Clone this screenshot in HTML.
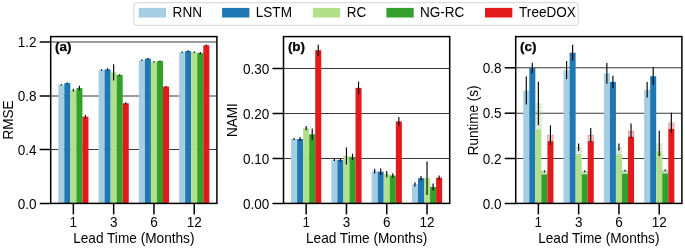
<!DOCTYPE html>
<html><head><meta charset="utf-8"><style>
html,body{margin:0;padding:0;background:#fff;width:685px;height:248px;overflow:hidden}
svg text{font-family:"Liberation Sans", sans-serif;font-size:13.9px;fill:#000}
svg{will-change:transform}
</style></head><body>
<svg width="685" height="248" viewBox="0 0 685 248" style="display:block">
<defs>
<pattern id="h0" patternUnits="userSpaceOnUse" width="2.6" height="2.6" patternTransform="rotate(45)"><rect x="0" y="0" width="2.6" height="2.6" fill="#a6cee3" fill-opacity="0.22"/><rect x="0" y="0" width="0.8" height="2.6" fill="#777" fill-opacity="0.35"/></pattern>
<pattern id="h1" patternUnits="userSpaceOnUse" width="2.6" height="2.6" patternTransform="rotate(45)"><rect x="0" y="0" width="2.6" height="2.6" fill="#1f78b4" fill-opacity="0.22"/><rect x="0" y="0" width="0.8" height="2.6" fill="#777" fill-opacity="0.35"/></pattern>
<pattern id="h2" patternUnits="userSpaceOnUse" width="2.6" height="2.6" patternTransform="rotate(45)"><rect x="0" y="0" width="2.6" height="2.6" fill="#b2df8a" fill-opacity="0.22"/><rect x="0" y="0" width="0.8" height="2.6" fill="#777" fill-opacity="0.35"/></pattern>
<pattern id="h3" patternUnits="userSpaceOnUse" width="2.6" height="2.6" patternTransform="rotate(45)"><rect x="0" y="0" width="2.6" height="2.6" fill="#33a02c" fill-opacity="0.22"/><rect x="0" y="0" width="0.8" height="2.6" fill="#777" fill-opacity="0.35"/></pattern>
<pattern id="h4" patternUnits="userSpaceOnUse" width="2.6" height="2.6" patternTransform="rotate(45)"><rect x="0" y="0" width="2.6" height="2.6" fill="#e31a1c" fill-opacity="0.22"/><rect x="0" y="0" width="0.8" height="2.6" fill="#777" fill-opacity="0.35"/></pattern>
</defs>
<rect x="0" y="0" width="685" height="248" fill="#fff"/>
<g class="t">
<line x1="50.70" y1="149.50" x2="216.90" y2="149.50" stroke="#3a3a3a" stroke-width="1.05"/>
<line x1="50.70" y1="96.00" x2="216.90" y2="96.00" stroke="#3a3a3a" stroke-width="1.05"/>
<line x1="50.70" y1="42.00" x2="216.90" y2="42.00" stroke="#3a3a3a" stroke-width="1.05"/>
<rect x="58.25" y="84.70" width="6.04" height="118.70" fill="#a6cee3"/>
<line x1="61.28" y1="84.00" x2="61.28" y2="85.40" stroke="#000" stroke-width="1.15"/>
<rect x="64.30" y="83.10" width="6.04" height="120.30" fill="#1f78b4"/>
<line x1="67.32" y1="82.40" x2="67.32" y2="83.80" stroke="#000" stroke-width="1.15"/>
<rect x="70.34" y="90.10" width="6.04" height="113.30" fill="#b2df8a"/>
<line x1="73.36" y1="88.70" x2="73.36" y2="91.50" stroke="#000" stroke-width="1.15"/>
<rect x="76.38" y="88.05" width="6.04" height="115.35" fill="#33a02c"/>
<line x1="79.41" y1="85.75" x2="79.41" y2="90.35" stroke="#000" stroke-width="1.15"/>
<rect x="82.43" y="116.70" width="6.04" height="86.70" fill="#e31a1c"/>
<line x1="85.45" y1="114.90" x2="85.45" y2="118.50" stroke="#000" stroke-width="1.15"/>
<rect x="98.54" y="70.00" width="6.04" height="133.40" fill="#a6cee3"/>
<line x1="101.57" y1="69.25" x2="101.57" y2="70.75" stroke="#000" stroke-width="1.15"/>
<rect x="104.59" y="69.40" width="6.04" height="134.00" fill="#1f78b4"/>
<line x1="107.61" y1="68.20" x2="107.61" y2="70.60" stroke="#000" stroke-width="1.15"/>
<rect x="110.63" y="72.40" width="6.04" height="131.00" fill="#b2df8a"/>
<line x1="113.65" y1="64.30" x2="113.65" y2="80.50" stroke="#000" stroke-width="1.15"/>
<rect x="116.67" y="75.00" width="6.04" height="128.40" fill="#33a02c"/>
<line x1="119.70" y1="74.30" x2="119.70" y2="75.70" stroke="#000" stroke-width="1.15"/>
<rect x="122.72" y="103.30" width="6.04" height="100.10" fill="#e31a1c"/>
<line x1="125.74" y1="102.20" x2="125.74" y2="104.40" stroke="#000" stroke-width="1.15"/>
<rect x="138.83" y="60.30" width="6.04" height="143.10" fill="#a6cee3"/>
<line x1="141.86" y1="59.60" x2="141.86" y2="61.00" stroke="#000" stroke-width="1.15"/>
<rect x="144.88" y="58.70" width="6.04" height="144.70" fill="#1f78b4"/>
<line x1="147.90" y1="57.90" x2="147.90" y2="59.50" stroke="#000" stroke-width="1.15"/>
<rect x="150.92" y="61.80" width="6.04" height="141.60" fill="#b2df8a"/>
<line x1="153.94" y1="61.10" x2="153.94" y2="62.50" stroke="#000" stroke-width="1.15"/>
<rect x="156.96" y="61.10" width="6.04" height="142.30" fill="#33a02c"/>
<line x1="159.99" y1="60.40" x2="159.99" y2="61.80" stroke="#000" stroke-width="1.15"/>
<rect x="163.01" y="86.60" width="6.04" height="116.80" fill="#e31a1c"/>
<line x1="166.03" y1="85.90" x2="166.03" y2="87.30" stroke="#000" stroke-width="1.15"/>
<rect x="179.12" y="52.20" width="6.04" height="151.20" fill="#a6cee3"/>
<line x1="182.15" y1="51.50" x2="182.15" y2="52.90" stroke="#000" stroke-width="1.15"/>
<rect x="185.17" y="51.00" width="6.04" height="152.40" fill="#1f78b4"/>
<line x1="188.19" y1="50.20" x2="188.19" y2="51.80" stroke="#000" stroke-width="1.15"/>
<rect x="191.21" y="52.20" width="6.04" height="151.20" fill="#b2df8a"/>
<line x1="194.23" y1="51.50" x2="194.23" y2="52.90" stroke="#000" stroke-width="1.15"/>
<rect x="197.25" y="53.10" width="6.04" height="150.30" fill="#33a02c"/>
<line x1="200.28" y1="52.00" x2="200.28" y2="54.20" stroke="#000" stroke-width="1.15"/>
<rect x="203.30" y="45.30" width="6.04" height="158.10" fill="#e31a1c"/>
<line x1="206.32" y1="44.60" x2="206.32" y2="46.00" stroke="#000" stroke-width="1.15"/>
<rect x="50.70" y="36.60" width="166.20" height="166.80" fill="none" stroke="#000" stroke-width="1.5"/>
<line x1="39.70" y1="203.50" x2="50.70" y2="203.50" stroke="#000" stroke-width="1.5"/>
<text transform="translate(36.60,209.00) scale(0.975,1)" text-anchor="end">0.0</text>
<line x1="39.70" y1="149.50" x2="50.70" y2="149.50" stroke="#000" stroke-width="1.5"/>
<text transform="translate(36.60,155.00) scale(0.975,1)" text-anchor="end">0.4</text>
<line x1="39.70" y1="96.00" x2="50.70" y2="96.00" stroke="#000" stroke-width="1.5"/>
<text transform="translate(36.60,101.00) scale(0.975,1)" text-anchor="end">0.8</text>
<line x1="39.70" y1="42.00" x2="50.70" y2="42.00" stroke="#000" stroke-width="1.5"/>
<text transform="translate(36.60,47.00) scale(0.975,1)" text-anchor="end">1.2</text>
<line x1="73.36" y1="203.40" x2="73.36" y2="214.40" stroke="#000" stroke-width="1.5"/>
<text transform="translate(73.36,227.00) scale(0.975,1)" text-anchor="middle">1</text>
<line x1="113.65" y1="203.40" x2="113.65" y2="214.40" stroke="#000" stroke-width="1.5"/>
<text transform="translate(113.65,227.00) scale(0.975,1)" text-anchor="middle">3</text>
<line x1="153.94" y1="203.40" x2="153.94" y2="214.40" stroke="#000" stroke-width="1.5"/>
<text transform="translate(153.94,227.00) scale(0.975,1)" text-anchor="middle">6</text>
<line x1="194.23" y1="203.40" x2="194.23" y2="214.40" stroke="#000" stroke-width="1.5"/>
<text transform="translate(194.23,227.00) scale(0.975,1)" text-anchor="middle">12</text>
<text transform="translate(133.80,243.00) scale(0.982,1)" text-anchor="middle">Lead Time (Months)</text>
<text transform="translate(12.600000000000001,120.0) rotate(-90) scale(1,1.04)" text-anchor="middle" style="font-size:13.5px">RMSE</text>
<text transform="translate(55.10,51.00) scale(1.0,1)" style="font-size:13.4px;font-weight:bold;stroke:#000;stroke-width:0.25px;">(a)</text>
<line x1="283.50" y1="158.50" x2="449.70" y2="158.50" stroke="#3a3a3a" stroke-width="1.05"/>
<line x1="283.50" y1="113.50" x2="449.70" y2="113.50" stroke="#3a3a3a" stroke-width="1.05"/>
<line x1="283.50" y1="68.50" x2="449.70" y2="68.50" stroke="#3a3a3a" stroke-width="1.05"/>
<rect x="291.05" y="139.00" width="6.04" height="64.40" fill="#a6cee3"/>
<line x1="294.08" y1="138.00" x2="294.08" y2="140.00" stroke="#000" stroke-width="1.15"/>
<rect x="297.10" y="139.00" width="6.04" height="64.40" fill="#1f78b4"/>
<line x1="300.12" y1="137.05" x2="300.12" y2="140.95" stroke="#000" stroke-width="1.15"/>
<rect x="303.14" y="128.20" width="6.04" height="75.20" fill="#b2df8a"/>
<line x1="306.16" y1="126.05" x2="306.16" y2="130.35" stroke="#000" stroke-width="1.15"/>
<rect x="309.18" y="134.30" width="6.04" height="69.10" fill="#33a02c"/>
<line x1="312.21" y1="128.45" x2="312.21" y2="140.15" stroke="#000" stroke-width="1.15"/>
<rect x="315.23" y="50.20" width="6.04" height="153.20" fill="#e31a1c"/>
<line x1="318.25" y1="44.75" x2="318.25" y2="55.65" stroke="#000" stroke-width="1.15"/>
<rect x="331.34" y="159.90" width="6.04" height="43.50" fill="#a6cee3"/>
<line x1="334.37" y1="158.70" x2="334.37" y2="161.10" stroke="#000" stroke-width="1.15"/>
<rect x="337.39" y="159.90" width="6.04" height="43.50" fill="#1f78b4"/>
<line x1="340.41" y1="158.25" x2="340.41" y2="161.55" stroke="#000" stroke-width="1.15"/>
<rect x="343.43" y="156.00" width="6.04" height="47.40" fill="#b2df8a"/>
<line x1="346.45" y1="147.50" x2="346.45" y2="164.50" stroke="#000" stroke-width="1.15"/>
<rect x="349.47" y="156.90" width="6.04" height="46.50" fill="#33a02c"/>
<line x1="352.50" y1="153.75" x2="352.50" y2="160.05" stroke="#000" stroke-width="1.15"/>
<rect x="355.52" y="87.90" width="6.04" height="115.50" fill="#e31a1c"/>
<line x1="358.54" y1="81.70" x2="358.54" y2="94.10" stroke="#000" stroke-width="1.15"/>
<rect x="371.63" y="171.10" width="6.04" height="32.30" fill="#a6cee3"/>
<line x1="374.66" y1="168.65" x2="374.66" y2="173.55" stroke="#000" stroke-width="1.15"/>
<rect x="377.68" y="171.70" width="6.04" height="31.70" fill="#1f78b4"/>
<line x1="380.70" y1="168.45" x2="380.70" y2="174.95" stroke="#000" stroke-width="1.15"/>
<rect x="383.72" y="174.10" width="6.04" height="29.30" fill="#b2df8a"/>
<line x1="386.74" y1="170.90" x2="386.74" y2="177.30" stroke="#000" stroke-width="1.15"/>
<rect x="389.76" y="175.50" width="6.04" height="27.90" fill="#33a02c"/>
<line x1="392.79" y1="173.30" x2="392.79" y2="177.70" stroke="#000" stroke-width="1.15"/>
<rect x="395.81" y="121.40" width="6.04" height="82.00" fill="#e31a1c"/>
<line x1="398.83" y1="117.05" x2="398.83" y2="125.75" stroke="#000" stroke-width="1.15"/>
<rect x="411.92" y="184.30" width="6.04" height="19.10" fill="#a6cee3"/>
<line x1="414.95" y1="182.20" x2="414.95" y2="186.40" stroke="#000" stroke-width="1.15"/>
<rect x="417.97" y="178.20" width="6.04" height="25.20" fill="#1f78b4"/>
<line x1="420.99" y1="175.90" x2="420.99" y2="180.50" stroke="#000" stroke-width="1.15"/>
<rect x="424.01" y="178.20" width="6.04" height="25.20" fill="#b2df8a"/>
<line x1="427.03" y1="161.50" x2="427.03" y2="194.90" stroke="#000" stroke-width="1.15"/>
<rect x="430.05" y="187.00" width="6.04" height="16.40" fill="#33a02c"/>
<line x1="433.08" y1="183.55" x2="433.08" y2="190.45" stroke="#000" stroke-width="1.15"/>
<rect x="436.10" y="177.70" width="6.04" height="25.70" fill="#e31a1c"/>
<line x1="439.12" y1="175.55" x2="439.12" y2="179.85" stroke="#000" stroke-width="1.15"/>
<rect x="283.50" y="36.60" width="166.20" height="166.80" fill="none" stroke="#000" stroke-width="1.5"/>
<line x1="272.50" y1="203.50" x2="283.50" y2="203.50" stroke="#000" stroke-width="1.5"/>
<text transform="translate(269.40,209.00) scale(0.975,1)" text-anchor="end">0.00</text>
<line x1="272.50" y1="158.50" x2="283.50" y2="158.50" stroke="#000" stroke-width="1.5"/>
<text transform="translate(269.40,164.00) scale(0.975,1)" text-anchor="end">0.10</text>
<line x1="272.50" y1="113.50" x2="283.50" y2="113.50" stroke="#000" stroke-width="1.5"/>
<text transform="translate(269.40,119.00) scale(0.975,1)" text-anchor="end">0.20</text>
<line x1="272.50" y1="68.50" x2="283.50" y2="68.50" stroke="#000" stroke-width="1.5"/>
<text transform="translate(269.40,74.00) scale(0.975,1)" text-anchor="end">0.30</text>
<line x1="306.16" y1="203.40" x2="306.16" y2="214.40" stroke="#000" stroke-width="1.5"/>
<text transform="translate(306.16,227.00) scale(0.975,1)" text-anchor="middle">1</text>
<line x1="346.45" y1="203.40" x2="346.45" y2="214.40" stroke="#000" stroke-width="1.5"/>
<text transform="translate(346.45,227.00) scale(0.975,1)" text-anchor="middle">3</text>
<line x1="386.74" y1="203.40" x2="386.74" y2="214.40" stroke="#000" stroke-width="1.5"/>
<text transform="translate(386.74,227.00) scale(0.975,1)" text-anchor="middle">6</text>
<line x1="427.03" y1="203.40" x2="427.03" y2="214.40" stroke="#000" stroke-width="1.5"/>
<text transform="translate(427.03,227.00) scale(0.975,1)" text-anchor="middle">12</text>
<text transform="translate(366.60,243.00) scale(0.982,1)" text-anchor="middle">Lead Time (Months)</text>
<text transform="translate(237.0,120.2) rotate(-90) scale(1,1.04)" text-anchor="middle" style="font-size:13.5px">NAMI</text>
<text transform="translate(287.90,51.00) scale(1.0,1)" style="font-size:13.4px;font-weight:bold;stroke:#000;stroke-width:0.25px;">(b)</text>
<line x1="515.70" y1="158.50" x2="681.90" y2="158.50" stroke="#3a3a3a" stroke-width="1.05"/>
<line x1="515.70" y1="113.20" x2="681.90" y2="113.20" stroke="#3a3a3a" stroke-width="1.05"/>
<line x1="515.70" y1="67.80" x2="681.90" y2="67.80" stroke="#3a3a3a" stroke-width="1.05"/>
<rect x="523.25" y="90.60" width="6.04" height="112.80" fill="#a6cee3"/>
<line x1="526.28" y1="76.60" x2="526.28" y2="104.60" stroke="#000" stroke-width="1.15"/>
<rect x="529.30" y="67.90" width="6.04" height="135.50" fill="#1f78b4"/>
<line x1="532.32" y1="62.65" x2="532.32" y2="73.15" stroke="#000" stroke-width="1.15"/>
<rect x="535.34" y="129.50" width="6.04" height="73.90" fill="#b2df8a"/>
<rect x="535.34" y="103.50" width="6.04" height="26.00" fill="url(#h2)"/>
<rect x="535.64" y="103.80" width="5.44" height="25.70" fill="none" stroke="#b2df8a" stroke-opacity="0.35" stroke-width="0.6"/>
<line x1="538.36" y1="81.70" x2="538.36" y2="125.30" stroke="#000" stroke-width="1.15"/>
<rect x="541.38" y="174.50" width="6.04" height="28.90" fill="#33a02c"/>
<rect x="541.38" y="171.30" width="6.04" height="3.20" fill="url(#h3)"/>
<rect x="541.68" y="171.60" width="5.44" height="2.90" fill="none" stroke="#33a02c" stroke-opacity="0.35" stroke-width="0.6"/>
<line x1="544.41" y1="170.40" x2="544.41" y2="172.20" stroke="#000" stroke-width="1.15"/>
<rect x="547.43" y="141.10" width="6.04" height="62.30" fill="#e31a1c"/>
<rect x="547.43" y="135.00" width="6.04" height="6.10" fill="url(#h4)"/>
<rect x="547.73" y="135.30" width="5.44" height="5.80" fill="none" stroke="#e31a1c" stroke-opacity="0.35" stroke-width="0.6"/>
<line x1="550.45" y1="125.40" x2="550.45" y2="144.60" stroke="#000" stroke-width="1.15"/>
<rect x="563.54" y="70.10" width="6.04" height="133.30" fill="#a6cee3"/>
<line x1="566.57" y1="61.05" x2="566.57" y2="79.15" stroke="#000" stroke-width="1.15"/>
<rect x="569.59" y="52.70" width="6.04" height="150.70" fill="#1f78b4"/>
<line x1="572.61" y1="44.80" x2="572.61" y2="60.60" stroke="#000" stroke-width="1.15"/>
<rect x="575.63" y="154.30" width="6.04" height="49.10" fill="#b2df8a"/>
<rect x="575.63" y="147.20" width="6.04" height="7.10" fill="url(#h2)"/>
<rect x="575.93" y="147.50" width="5.44" height="6.80" fill="none" stroke="#b2df8a" stroke-opacity="0.35" stroke-width="0.6"/>
<line x1="578.65" y1="143.40" x2="578.65" y2="151.00" stroke="#000" stroke-width="1.15"/>
<rect x="581.67" y="174.30" width="6.04" height="29.10" fill="#33a02c"/>
<rect x="581.67" y="171.30" width="6.04" height="3.00" fill="url(#h3)"/>
<rect x="581.97" y="171.60" width="5.44" height="2.70" fill="none" stroke="#33a02c" stroke-opacity="0.35" stroke-width="0.6"/>
<line x1="584.70" y1="170.40" x2="584.70" y2="172.20" stroke="#000" stroke-width="1.15"/>
<rect x="587.72" y="141.20" width="6.04" height="62.20" fill="#e31a1c"/>
<rect x="587.72" y="135.00" width="6.04" height="6.20" fill="url(#h4)"/>
<rect x="588.02" y="135.30" width="5.44" height="5.90" fill="none" stroke="#e31a1c" stroke-opacity="0.35" stroke-width="0.6"/>
<line x1="590.74" y1="128.00" x2="590.74" y2="142.00" stroke="#000" stroke-width="1.15"/>
<rect x="603.83" y="73.40" width="6.04" height="130.00" fill="#a6cee3"/>
<line x1="606.86" y1="62.95" x2="606.86" y2="83.85" stroke="#000" stroke-width="1.15"/>
<rect x="609.88" y="81.90" width="6.04" height="121.50" fill="#1f78b4"/>
<line x1="612.90" y1="75.70" x2="612.90" y2="88.10" stroke="#000" stroke-width="1.15"/>
<rect x="615.92" y="154.20" width="6.04" height="49.20" fill="#b2df8a"/>
<rect x="615.92" y="147.20" width="6.04" height="7.00" fill="url(#h2)"/>
<rect x="616.22" y="147.50" width="5.44" height="6.70" fill="none" stroke="#b2df8a" stroke-opacity="0.35" stroke-width="0.6"/>
<line x1="618.94" y1="143.60" x2="618.94" y2="150.80" stroke="#000" stroke-width="1.15"/>
<rect x="621.96" y="173.90" width="6.04" height="29.50" fill="#33a02c"/>
<rect x="621.96" y="170.60" width="6.04" height="3.30" fill="url(#h3)"/>
<rect x="622.26" y="170.90" width="5.44" height="3.00" fill="none" stroke="#33a02c" stroke-opacity="0.35" stroke-width="0.6"/>
<line x1="624.99" y1="169.70" x2="624.99" y2="171.50" stroke="#000" stroke-width="1.15"/>
<rect x="628.01" y="136.90" width="6.04" height="66.50" fill="#e31a1c"/>
<rect x="628.01" y="130.90" width="6.04" height="6.00" fill="url(#h4)"/>
<rect x="628.31" y="131.20" width="5.44" height="5.70" fill="none" stroke="#e31a1c" stroke-opacity="0.35" stroke-width="0.6"/>
<line x1="631.03" y1="123.60" x2="631.03" y2="138.20" stroke="#000" stroke-width="1.15"/>
<rect x="644.12" y="89.75" width="6.04" height="113.65" fill="#a6cee3"/>
<line x1="647.15" y1="82.05" x2="647.15" y2="97.45" stroke="#000" stroke-width="1.15"/>
<rect x="650.17" y="76.20" width="6.04" height="127.20" fill="#1f78b4"/>
<line x1="653.19" y1="67.30" x2="653.19" y2="85.10" stroke="#000" stroke-width="1.15"/>
<rect x="656.21" y="151.50" width="6.04" height="51.90" fill="#b2df8a"/>
<rect x="656.21" y="143.40" width="6.04" height="8.10" fill="url(#h2)"/>
<rect x="656.51" y="143.70" width="5.44" height="7.80" fill="none" stroke="#b2df8a" stroke-opacity="0.35" stroke-width="0.6"/>
<line x1="659.23" y1="130.80" x2="659.23" y2="156.00" stroke="#000" stroke-width="1.15"/>
<rect x="662.25" y="173.70" width="6.04" height="29.70" fill="#33a02c"/>
<rect x="662.25" y="170.30" width="6.04" height="3.40" fill="url(#h3)"/>
<rect x="662.55" y="170.60" width="5.44" height="3.10" fill="none" stroke="#33a02c" stroke-opacity="0.35" stroke-width="0.6"/>
<line x1="665.28" y1="169.40" x2="665.28" y2="171.20" stroke="#000" stroke-width="1.15"/>
<rect x="668.30" y="129.10" width="6.04" height="74.30" fill="#e31a1c"/>
<rect x="668.30" y="122.70" width="6.04" height="6.40" fill="url(#h4)"/>
<rect x="668.60" y="123.00" width="5.44" height="6.10" fill="none" stroke="#e31a1c" stroke-opacity="0.35" stroke-width="0.6"/>
<line x1="671.32" y1="112.70" x2="671.32" y2="132.70" stroke="#000" stroke-width="1.15"/>
<rect x="515.70" y="36.60" width="166.20" height="166.80" fill="none" stroke="#000" stroke-width="1.5"/>
<line x1="504.70" y1="203.50" x2="515.70" y2="203.50" stroke="#000" stroke-width="1.5"/>
<text transform="translate(501.60,209.00) scale(0.975,1)" text-anchor="end">0.0</text>
<line x1="504.70" y1="158.50" x2="515.70" y2="158.50" stroke="#000" stroke-width="1.5"/>
<text transform="translate(501.60,164.00) scale(0.975,1)" text-anchor="end">0.2</text>
<line x1="504.70" y1="113.20" x2="515.70" y2="113.20" stroke="#000" stroke-width="1.5"/>
<text transform="translate(501.60,118.00) scale(0.975,1)" text-anchor="end">0.5</text>
<line x1="504.70" y1="67.80" x2="515.70" y2="67.80" stroke="#000" stroke-width="1.5"/>
<text transform="translate(501.60,73.00) scale(0.975,1)" text-anchor="end">0.8</text>
<line x1="538.36" y1="203.40" x2="538.36" y2="214.40" stroke="#000" stroke-width="1.5"/>
<text transform="translate(538.36,227.00) scale(0.975,1)" text-anchor="middle">1</text>
<line x1="578.65" y1="203.40" x2="578.65" y2="214.40" stroke="#000" stroke-width="1.5"/>
<text transform="translate(578.65,227.00) scale(0.975,1)" text-anchor="middle">3</text>
<line x1="618.94" y1="203.40" x2="618.94" y2="214.40" stroke="#000" stroke-width="1.5"/>
<text transform="translate(618.94,227.00) scale(0.975,1)" text-anchor="middle">6</text>
<line x1="659.23" y1="203.40" x2="659.23" y2="214.40" stroke="#000" stroke-width="1.5"/>
<text transform="translate(659.23,227.00) scale(0.975,1)" text-anchor="middle">12</text>
<text transform="translate(598.80,243.00) scale(0.982,1)" text-anchor="middle">Lead Time (Months)</text>
<text transform="translate(477.7,120.4) rotate(-90) scale(1,1.04)" text-anchor="middle" style="font-size:13.5px">Runtime (s)</text>
<text transform="translate(520.10,51.00) scale(1.0,1)" style="font-size:13.4px;font-weight:bold;stroke:#000;stroke-width:0.25px;">(c)</text>
<rect x="133.9" y="2.7" width="444.3" height="22.6" rx="2.5" ry="2.5" fill="#fff" stroke="#d4d4d4" stroke-width="1"/>
<rect x="138.7" y="7.9" width="27.3" height="9.6" fill="#a6cee3"/>
<text transform="translate(172.60,17.00) scale(0.975,1)">RNN</text>
<rect x="222.1" y="7.9" width="27.3" height="9.6" fill="#1f78b4"/>
<text transform="translate(255.80,17.00) scale(0.975,1)">LSTM</text>
<rect x="312.9" y="7.9" width="27.3" height="9.6" fill="#b2df8a"/>
<text transform="translate(346.80,17.00) scale(0.975,1)">RC</text>
<rect x="386.4" y="7.9" width="27.3" height="9.6" fill="#33a02c"/>
<text transform="translate(420.00,17.00) scale(0.975,1)">NG-RC</text>
<rect x="485.0" y="7.9" width="27.3" height="9.6" fill="#e31a1c"/>
<text transform="translate(519.10,17.00) scale(0.975,1)">TreeDOX</text>
</g>
</svg>
</body></html>
